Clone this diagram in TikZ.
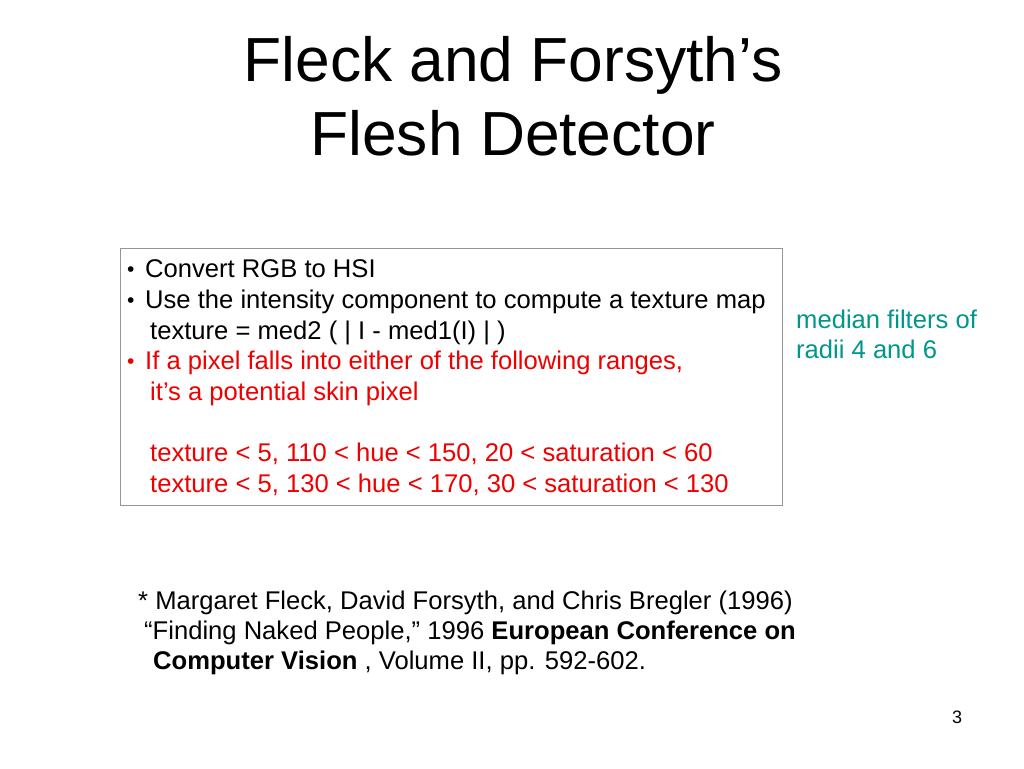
\documentclass[tikz,border=0pt]{standalone}
\usepackage{fontspec}
\setmainfont{Liberation Sans}
\begin{document}
\begin{tikzpicture}[x=1pt,y=-1pt,
  body/.style={anchor=base west,inner sep=0pt,font=\fontsize{25.6}{30.7}\selectfont},
  bul/.style={anchor=base west,inner sep=0pt,font=\fontsize{21}{30.7}\selectfont},
  ttl/.style={anchor=base,inner sep=0pt,font=\fontsize{62.3}{73}\selectfont},
  redtxt/.style={body,text=skinred},
  tealtxt/.style={body,text=tealnote}]
\definecolor{skinred}{RGB}{238,0,0}
\definecolor{tealnote}{RGB}{0,150,140}
\definecolor{boxgray}{RGB}{150,150,150}
\useasboundingbox[fill=white] (0,0) rectangle (1024,768);
% title
\node[ttl] (t1) at (513,81.7) {Fleck and Forsyth’s};
\node[ttl] (t2) at (513,155) {Flesh Detector};
% box
\draw[boxgray,line width=1pt] (120,248) rectangle (782,505);
\node[bul] (b1) at (127,276) {•};
\node[body] (l1) at (145,277) {Convert RGB to HSI};
\node[bul] (b2) at (127,307) {•};
\node[body] (l2) at (145,308) {Use the intensity component to compute a texture map};
\node[body] (l3) at (150,339) {texture = med2 ( | I - med1(I) | )};
\node[bul,text=skinred] (b4) at (127,368.5) {•};
\node[redtxt] (l4) at (145,369.5) {If a pixel falls into either of the following ranges,};
\node[redtxt] (l5) at (150,400) {it’s a potential skin pixel};
\node[redtxt] (l7) at (150,461.5) {texture < 5, 110 < hue < 150, 20 < saturation < 60};
\node[redtxt] (l8) at (150,492) {texture < 5, 130 < hue < 170, 30 < saturation < 130};
% note
\node[tealtxt] (n1) at (796,328) {median filters of};
\node[tealtxt] (n2) at (796,358) {radii 4 and 6};
% reference
\node[body] (r1) at (138,609) {* Margaret Fleck, David Forsyth, and Chris Bregler (1996)};
\node[body] (r2) at (144,639) {“Finding Naked People,” 1996 \textbf{European Conference on}};
\node[body] (r3) at (153,669) {\textbf{Computer Vision} , Volume II, pp. 592-602.};
% page number
\node[anchor=base,inner sep=0pt,font=\fontsize{18}{20}\selectfont] (pg) at (957,723) {3};
\end{tikzpicture}
\end{document}
